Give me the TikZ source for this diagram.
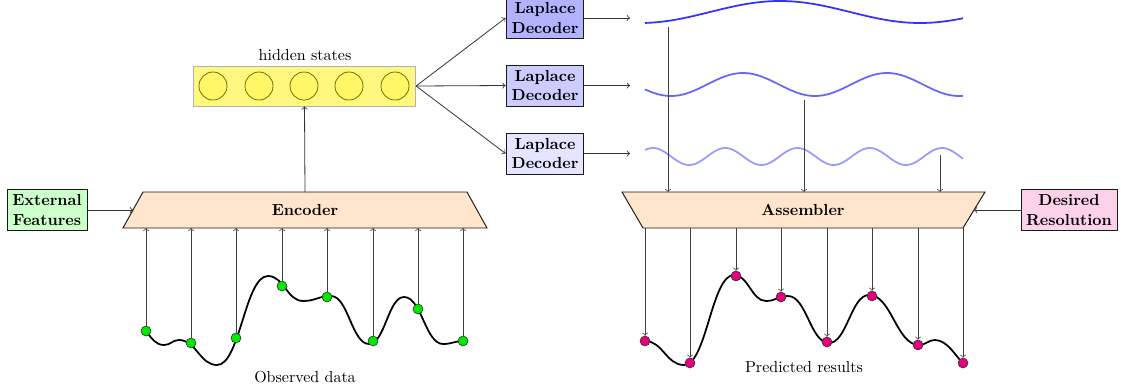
\documentclass[tikz,border=0pt]{standalone}
\usetikzlibrary{calc}
\definecolor{ptmag}{RGB}{230,0,126}
\definecolor{ptgreen}{RGB}{0,235,0}
\definecolor{hcdraw}{RGB}{120,110,0}
\begin{document}
\begin{tikzpicture}[x=0.625pt,y=-0.625pt,
  box/.style={draw=black!90,semithick,font=\bfseries,align=center,inner sep=1pt},
  trap/.style={draw=black!90,semithick,fill=orange!20},
  arr/.style={->,black!80,line width=0.5pt},
  thinarr/.style={->,black!75,line width=0.45pt},
  obs/.style={circle,draw=black!80,fill=ptgreen,minimum size=6.2pt,inner sep=0pt,line width=0.4pt},
  pred/.style={circle,draw=black!80,fill=ptmag,minimum size=6.2pt,inner sep=0pt,line width=0.4pt},
  hcirc/.style={circle,draw=hcdraw,fill=yellow!60,minimum size=17.5pt,inner sep=0pt,line width=0.5pt},
  curve/.style={line width=1.1pt,black},
  wave/.style={line width=1.1pt}]
\useasboundingbox (0,0) rectangle (1121,389);

% Encoder
\draw[trap] (143,192) -- (467,192) -- (487,228) -- (123,228) -- cycle;
\node[font=\bfseries] (enc) at (305,210) {Encoder};
\coordinate (encleft) at (133,210);
\coordinate (enctop) at (305,192);
\coordinate (encbot) at (305,228);

% External features
\node[box,fill=green!20,minimum width=50pt,minimum height=26pt] (ext) at (47,210) {External\\Features};
\draw[arr] (ext.east) -- (encleft);

% hidden states
\node[draw=black!30,fill=yellow!50,minimum width=139pt,minimum height=25pt,inner sep=0pt,line width=0.5pt] (hid) at (304.5,86) {};
\foreach \i/\x in {1/213,2/259,3/304,4/349,5/395}
  \node[hcirc] (h\i) at (\x,86) {};
\node[font=\normalsize] (hlab) at (305,55) {hidden states};
\draw[arr] (enctop) -- (hid.south);

% decoders
\node[box,fill=blue!30,minimum width=48.7pt,minimum height=25.6pt] (d1) at (545,18) {Laplace\\Decoder};
\node[box,fill=blue!20,minimum width=48.7pt,minimum height=25.6pt] (d2) at (545,85.5) {Laplace\\Decoder};
\node[box,fill=blue!10,minimum width=48.7pt,minimum height=25.6pt] (d3) at (545,153.5) {Laplace\\Decoder};
\draw[arr] (hid.east) -- (d1.west);
\draw[arr] (hid.east) -- (d2.west);
\draw[arr] (hid.east) -- (d3.west);
\coordinate (e1) at (630,18);
\coordinate (e2) at (630,85.5);
\coordinate (e3) at (630,153.5);
\draw[arr] (d1.east) -- (e1);
\draw[arr] (d2.east) -- (e2);
\draw[arr] (d3.east) -- (e3);

% waves
\draw[wave,blue!80] plot[domain=645:963,samples=120,smooth] (\x,{12-11*cos((\x-780)/280*360)});
\draw[wave,blue!60] plot[domain=645:963,samples=150,smooth] (\x,{84.5-11.5*cos((\x-743)/144*360)});
\draw[wave,blue!40] plot[domain=645:963,samples=200,smooth] (\x,{156.5-8.5*cos((\x-653)/72.25*360)});

% Assembler
\draw[trap] (622,192) -- (985,192) -- (963,228) -- (643,228) -- cycle;
\node[font=\bfseries] (asm) at (803,210) {Assembler};
\coordinate (asmright) at (974,210);
\coordinate (asmtop) at (803,192);
\coordinate (asmbot) at (803,228);

\coordinate (w1) at (668,27);
\coordinate (w2) at (804,100);
\coordinate (w3) at (940,155);
\draw[thinarr] (w1) -- (w1 |- asmtop);
\draw[thinarr] (w2) -- (w2 |- asmtop);
\draw[thinarr] (w3) -- (w3 |- asmtop);

% Desired resolution
\node[box,fill=magenta!18,minimum width=60pt,minimum height=26pt] (res) at (1069,210) {Desired\\Resolution};
\draw[arr] (res.west) -- (asmright);

% Observed curve
\draw[curve] (146,331) .. controls (152,339) and (156,345) .. (164,345)
  .. controls (170.75,345) and (172.25,340) .. (179,340)
  .. controls (196.1,340) and (199.9,365) .. (217,365)
  .. controls (240,365) and (245,276) .. (268,276)
  .. controls (283.75,276) and (287.25,301) .. (303,301)
  .. controls (315.6,301) and (318.4,296) .. (331,296)
  .. controls (348.1,296) and (351.9,344) .. (369,344)
  .. controls (384.75,344) and (388.25,297) .. (404,297)
  .. controls (421.55,297) and (425.45,344) .. (443,344)
  .. controls (452,344) and (455,341) .. (463,341);
\foreach \i/\x/\y in {1/146/331,2/191/343,3/236/338,4/282/286,5/327/297,6/373/341,7/418/309,8/463/341}{
  \node[obs] (o\i) at (\x,\y) {};
  \draw[thinarr] (o\i.north) -- (o\i |- encbot);
}
\node (olab) at (305,377) {Observed data};

% Predicted curve
\draw[curve] (645,341) .. controls (662.55,341) and (666.45,365) .. (684,365)
  .. controls (706.5,365) and (711.5,275) .. (734,275)
  .. controls (748.4,275) and (751.6,301) .. (766,301)
  .. controls (775.9,301) and (778.1,296) .. (788,296)
  .. controls (806.45,296) and (810.55,343) .. (829,343)
  .. controls (847,343) and (851,295) .. (869,295)
  .. controls (891.5,295) and (896.5,345) .. (919,345)
  .. controls (926.2,345) and (927.8,340) .. (935,340)
  .. controls (947.6,340) and (956,357) .. (963,363);
\foreach \i/\x/\y in {1/645/341,2/690/363,3/736/276,4/781/297,5/827/342,6/872/296,7/918/345,8/963/363}{
  \node[pred] (p\i) at (\x,\y) {};
  \draw[thinarr] (p\i |- asmbot) -- (p\i.north);
}
\node (plab) at (804,367) {Predicted results};
\end{tikzpicture}
\end{document}
